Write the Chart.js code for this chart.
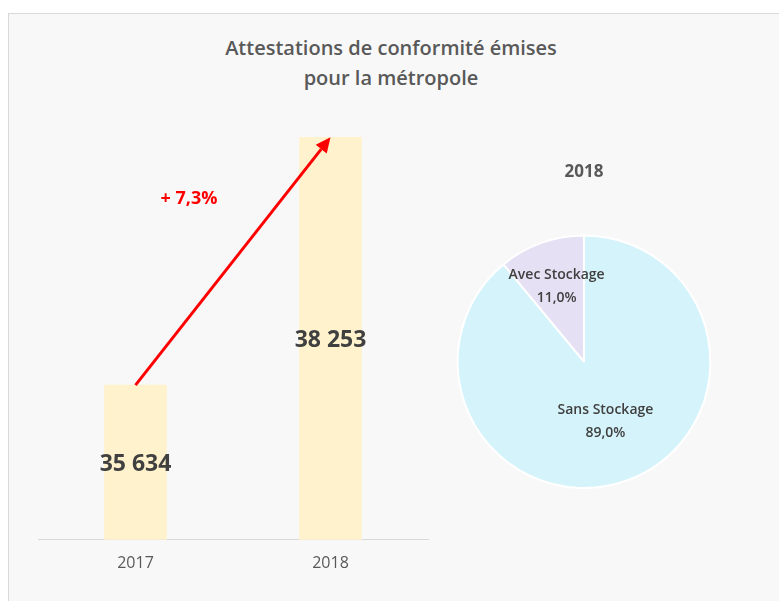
<!DOCTYPE html>
<html>
<head>
<meta charset="utf-8">
<script src="https://cdn.jsdelivr.net/npm/chart.js@4.4.0/dist/chart.umd.min.js"></script>
<style>
    html, body { margin: 0; padding: 0; background: #fff; }
    #wrap { position: relative; width: 779px; height: 601px; overflow: hidden; }
    #panel { position: absolute; left: 8px; top: 13px; width: 800px; height: 620px;
             background: #f8f8f8; border: 1px solid #d9d9d9; box-sizing: border-box; }
    #titre { position: absolute; left: 0; top: 33px; width: 782px; text-align: center;
             font: 600 20px "Open Sans"; line-height: 30px; color: #595959; }
    #barres { position: absolute; left: 0; top: 0; }
    #camembert { position: absolute; left: 434px; top: 150px; }
</style>
</head>
<body>
<div id="wrap">
    <div id="panel"></div>
    <div id="titre">Attestations de conformité émises<br>pour la métropole</div>
    <canvas id="barres" width="779" height="601" style="width:779px;height:601px"></canvas>
    <canvas id="camembert" width="300" height="339" style="width:300px;height:339px"></canvas>
</div>
<script>
// donnees
const annees = ['2017', '2018'];
const attestations = [35634, 38253];
const evolution = '+ 7,3%';
const anneeCamembert = '2018';
const typesStockage = ['Sans Stockage', 'Avec Stockage'];
const partsStockage = [89.0, 11.0];

function milliers(n) {
    return String(n).replace(/\B(?=(\d{3})+(?!\d))/g, ' ');
}

function pourcent(v) {
    return v.toFixed(1).replace('.', ',') + '%';
}

const etiquettesBarres = {
    id: 'etiquettesBarres',
    afterDatasetsDraw(chart) {
        const ctx = chart.ctx;
        const barres = chart.getDatasetMeta(0).data.map(b => b.getProps(['x', 'y'], true));
        const bas = chart.chartArea.bottom;
        ctx.save();

        // fleche entre le haut des deux barres
        const a = barres[0], z = barres[1];
        const ang = Math.atan2(z.y - a.y, z.x - a.x);
        const tete = 15;
        const bx = z.x - Math.cos(ang) * tete, by = z.y - Math.sin(ang) * tete;
        ctx.strokeStyle = '#ff0000';
        ctx.fillStyle = '#ff0000';
        ctx.lineWidth = 3;
        ctx.beginPath();
        ctx.moveTo(a.x, a.y);
        ctx.lineTo(bx, by);
        ctx.stroke();
        ctx.beginPath();
        ctx.moveTo(z.x, z.y);
        ctx.lineTo(bx + Math.sin(ang) * 7, by - Math.cos(ang) * 7);
        ctx.lineTo(bx - Math.sin(ang) * 7, by + Math.cos(ang) * 7);
        ctx.closePath();
        ctx.fill();

        ctx.font = 'bold 18px "Open Sans"';
        ctx.textAlign = 'center';
        ctx.textBaseline = 'middle';
        ctx.fillText(evolution, (a.x + z.x) / 2 - 44, (a.y + z.y) / 2 - 62);

        // valeurs au milieu des barres
        ctx.font = 'bold 23px "Open Sans"';
        ctx.fillStyle = '#404040';
        barres.forEach((b, i) => {
            ctx.fillText(milliers(attestations[i]), b.x, (b.y + bas) / 2 + 2);
        });
        ctx.restore();
    }
};

const etiquettesParts = {
    id: 'etiquettesParts',
    afterDatasetsDraw(chart) {
        const ctx = chart.ctx;
        const arcs = chart.getDatasetMeta(0).data;
        const recul = [0.5, 0.64];
        ctx.save();
        ctx.font = '600 14px "Open Sans"';
        ctx.fillStyle = '#404040';
        ctx.textAlign = 'center';
        ctx.textBaseline = 'middle';
        arcs.forEach((arc, i) => {
            const p = arc.getProps(['x', 'y', 'startAngle', 'endAngle', 'outerRadius'], true);
            const mid = (p.startAngle + p.endAngle) / 2;
            const x = p.x + Math.cos(mid) * p.outerRadius * recul[i];
            const y = p.y + Math.sin(mid) * p.outerRadius * recul[i];
            ctx.fillText(typesStockage[i], x, y - 11);
            ctx.fillText(pourcent(partsStockage[i]), x, y + 12);
        });
        ctx.restore();
    }
};

new Chart('barres', {
    type: 'bar',
    data: {
        labels: annees,
        datasets: [{
            data: attestations,
            backgroundColor: '#fff2cc',
            barThickness: 62
        }]
    },
    options: {
        responsive: false,
        animation: false,
        layout: { padding: { left: 38, right: 351, top: 114, bottom: 14 } },
        plugins: {
            legend: { display: false },
            tooltip: { enabled: false }
        },
        scales: {
            x: {
                grid: { display: false, drawTicks: false },
                border: { display: true, color: '#d9d9d9', width: 1 },
                ticks: { color: '#595959', font: { family: 'Open Sans', size: 16 }, padding: 14 }
            },
            y: { display: false, min: 34000, max: 38500 }
        }
    },
    plugins: [etiquettesBarres]
});

new Chart('camembert', {
    type: 'pie',
    data: {
        labels: typesStockage,
        datasets: [{
            data: partsStockage,
            backgroundColor: ['#d5f3fa', '#e5e0f4'],
            borderColor: '#ffffff',
            borderWidth: 2
        }]
    },
    options: {
        responsive: false,
        animation: false,
        plugins: {
            legend: { display: false },
            tooltip: { enabled: false },
            title: {
                display: true,
                text: anneeCamembert,
                color: '#595959',
                font: { family: 'Open Sans', size: 17, weight: 'bold' },
                padding: { top: 12, bottom: 52 }
            }
        }
    },
    plugins: [etiquettesParts]
});
</script>
</body>
</html>
